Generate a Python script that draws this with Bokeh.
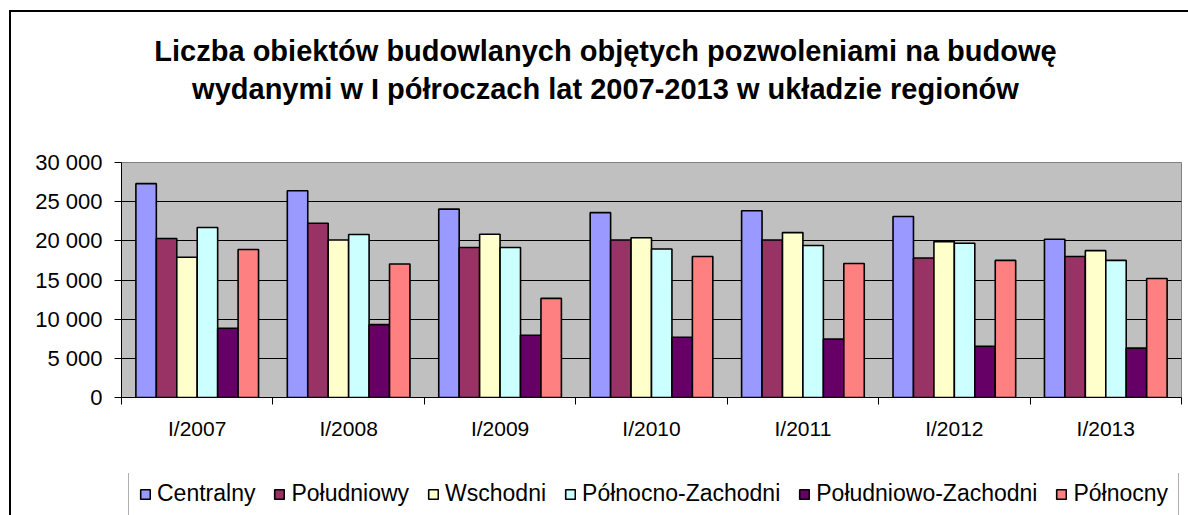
from bokeh.plotting import figure
from bokeh.layouts import column
from bokeh.models import (ColumnDataSource, FixedTicker, Legend, LegendItem,
                          Range1d, Label)
from bokeh.transform import dodge
from bokeh.embed import file_html
from bokeh.resources import INLINE

# ---- data ----
periods = ["I/2007", "I/2008", "I/2009", "I/2010", "I/2011", "I/2012", "I/2013"]
regions = ["Centralny", "Południowy", "Wschodni", "Północno-Zachodni",
           "Południowo-Zachodni", "Północny"]
centralny = [27300, 26400, 24050, 23600, 23850, 23100, 20200]
poludniowy = [20300, 22250, 19150, 20100, 20100, 17800, 18000]
wschodni = [17900, 20100, 20850, 20400, 21050, 19900, 18750]
polnocno_zachodni = [21700, 20800, 19150, 18950, 19400, 19700, 17500]
poludniowo_zachodni = [8850, 9300, 7950, 7700, 7450, 6550, 6300]
polnocny = [18900, 17050, 12650, 18000, 17100, 17500, 15200]
y_ticks = [0, 5000, 10000, 15000, 20000, 25000, 30000]
y_tick_labels = ["0", "5 000", "10 000", "15 000", "20 000", "25 000", "30 000"]
title_lines = ["Liczba obiektów budowlanych objętych pozwoleniami na budowę",
               "wydanymi w I półroczach lat 2007-2013 w układzie regionów"]

colors = ["#9999FF", "#993366", "#FFFFCC", "#CCFFFF", "#660066", "#FF8080"]
series = [centralny, poludniowy, wschodni, polnocno_zachodni,
          poludniowo_zachodni, polnocny]

pos = [i + 0.5 for i in range(len(periods))]
data = {"x": pos}
keys = ["s%d" % k for k in range(len(series))]
for k, s in zip(keys, series):
    data[k] = s
src = ColumnDataSource(data)

FONT = "Liberation Sans"
W = 1188
bw = 0.135
LEFT, RIGHT = 121, 7


def bare(fig):
    fig.axis.visible = False
    fig.grid.visible = False
    fig.background_fill_alpha = 0
    fig.border_fill_alpha = 0
    fig.outline_line_color = None


# ---- title strip (frame aligned with main chart frame: left edge at 121) ----
pt = figure(width=W, height=140, x_range=Range1d(0, 1), y_range=Range1d(0, 1),
            output_backend="svg", toolbar_location=None,
            min_border_left=LEFT, min_border_right=RIGHT, min_border_top=0,
            min_border_bottom=0)
bare(pt)
for txt, yy in zip(title_lines, [90, 52]):
    pt.add_layout(Label(x=605 - LEFT, y=yy, x_units="screen", y_units="screen",
                        text=txt, text_align="center", text_baseline="middle",
                        text_font=FONT, text_font_style="bold",
                        text_font_size="29px", text_color="black"))

# ---- main chart ----
p = figure(width=W, height=333, x_range=Range1d(0, len(periods)),
           y_range=Range1d(0, 30000), output_backend="svg",
           toolbar_location=None, min_border_left=LEFT, min_border_right=RIGHT,
           min_border_top=22, min_border_bottom=76)
p.background_fill_color = "#C0C0C0"
p.border_fill_alpha = 0
p.outline_line_color = "#808080"
p.outline_line_width = 1

for k, (key, col) in enumerate(zip(keys, colors)):
    p.vbar(x=dodge("x", (k - 2.5) * bw, range=p.x_range), top=key, width=bw,
           source=src, fill_color=col, line_color="black", line_width=1.6)

p.xgrid.visible = False
p.ygrid.grid_line_color = "black"
p.ygrid.grid_line_width = 1
p.ygrid.ticker = FixedTicker(ticks=y_ticks)

ya = p.yaxis[0]
ya.ticker = FixedTicker(ticks=y_ticks)
ya.major_label_overrides = {t: l for t, l in zip(y_ticks, y_tick_labels)}
ya.axis_line_color = "black"
ya.major_tick_line_color = "black"
ya.major_tick_out = 7
ya.major_tick_in = 0
ya.minor_tick_line_color = None
ya.major_label_text_font = FONT
ya.major_label_text_font_size = "22px"
ya.major_label_text_color = "black"
ya.major_label_standoff = 12

xa = p.xaxis[0]
xa.ticker = FixedTicker(ticks=pos, minor_ticks=list(range(len(periods) + 1)))
xa.major_label_overrides = {t: l for t, l in zip(pos, periods)}
xa.axis_line_color = "black"
xa.major_tick_out = 0
xa.major_tick_in = 0
xa.minor_tick_line_color = "black"
xa.minor_tick_out = 7
xa.minor_tick_in = 0
xa.major_label_text_font = FONT
xa.major_label_text_font_size = "21px"
xa.major_label_text_color = "black"
xa.major_label_standoff = 12

# ---- legend strip ----
pl = figure(width=W, height=42, x_range=Range1d(0, len(periods)),
            y_range=Range1d(40000, 50000), output_backend="svg",
            toolbar_location=None, min_border_left=LEFT, min_border_right=RIGHT,
            min_border_top=0, min_border_bottom=0)
bare(pl)
leg_renderers = []
for k, (key, col) in enumerate(zip(keys, colors)):
    r = pl.vbar(x=dodge("x", (k - 2.5) * bw, range=pl.x_range), top=key, width=bw,
                source=src, fill_color=col, line_color="black", line_width=1.6)
    leg_renderers.append(r)

legend = Legend(items=[LegendItem(label=n, renderers=[r])
                       for n, r in zip(regions, leg_renderers)],
                orientation="horizontal", location=(128 - LEFT, -3),
                label_text_font=FONT, label_text_font_size="23px",
                label_text_color="black",
                glyph_width=12, glyph_height=12, label_standoff=6, spacing=18,
                padding=10, margin=0, border_line_color="#606060",
                border_line_width=1, background_fill_color="white",
                background_fill_alpha=1)
pl.add_layout(legend)

layout = column(pt, p, pl, spacing=0)
layout.styles = {
    "background-color": "white",
    "background-image": "linear-gradient(#000,#000), linear-gradient(#000,#000)",
    "background-size": "2px 100%, 100% 2px",
    "background-position": "9px 10px, 9px 10px",
    "background-repeat": "no-repeat",
}

open("out.html", "w").write(file_html(layout, INLINE))
